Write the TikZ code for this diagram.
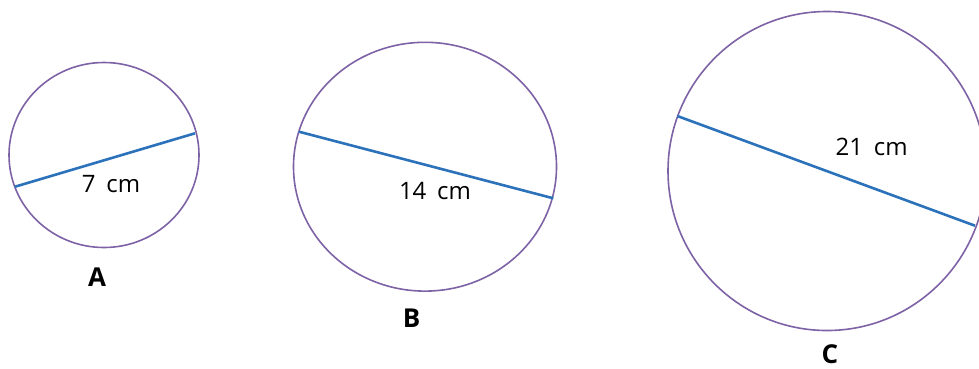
\documentclass[tikz,border=0pt]{standalone}
\usepackage{fontspec}
\setmainfont{Open Sans}
\definecolor{circpurple}{HTML}{7E62A6}
\definecolor{diamblue}{HTML}{2B72BA}
\begin{document}
\begin{tikzpicture}[x=1pt,y=-1pt,
  circ/.style={draw=circpurple,line width=1.6pt},
  diam/.style={draw=diamblue,line width=2.6pt},
  meas/.style={font=\fontsize{24}{28}\selectfont,inner sep=0pt},
  lbl/.style={font=\fontsize{26}{30}\selectfont\bfseries,inner sep=0pt}]
\useasboundingbox (0,0) rectangle (979,368);
\begin{scope}
\clip (0,0) rectangle (979,368);
% Circle A
\draw[circ] (104,155) ellipse [x radius=95, y radius=92.5];
\coordinate (a1) at (15,186.7);
\coordinate (a2) at (195,133.3);
\draw[diam] (a1) -- (a2);
\node[meas] (ta) at (111,184) {7\hspace{0.45em}cm};
\node[lbl] (la) at (97,277) {A};
% Circle B
\draw[circ] (425,166.7) ellipse [x radius=131.5, y radius=124.4];
\coordinate (b1) at (299,131.7);
\coordinate (b2) at (553.3,198.3);
\draw[diam] (b1) -- (b2);
\node[meas] (tb) at (435,190.7) {14\hspace{0.45em}cm};
\node[lbl] (lb) at (411.7,318) {B};
% Circle C
\draw[circ] (827,171) ellipse [x radius=159, y radius=159.5];
\coordinate (c1) at (677.3,116);
\coordinate (c2) at (975,225.7);
\draw[diam] (c1) -- (c2);
\node[meas] (tc) at (871.7,146.7) {21\hspace{0.45em}cm};
\node[lbl] (lc) at (830,354) {C};
\end{scope}
\end{tikzpicture}
\end{document}
